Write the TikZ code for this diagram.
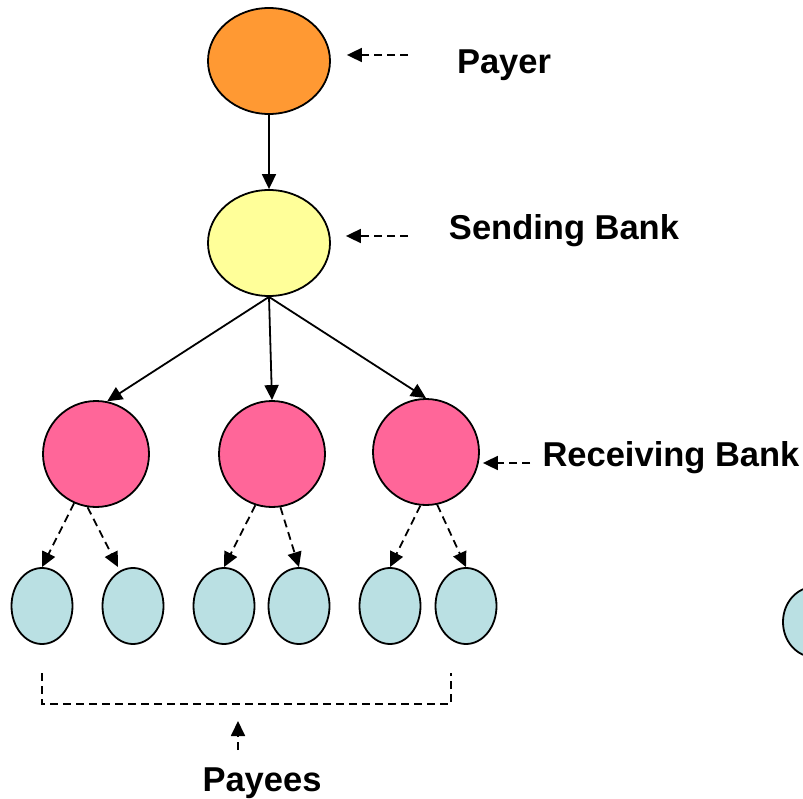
\documentclass[tikz,border=0pt]{standalone}
\usepackage{fontspec}
\setmainfont{Liberation Sans}
\usetikzlibrary{shapes.geometric}
\usetikzlibrary{arrows.meta}
\usetikzlibrary{positioning}
\definecolor{payerorange}{HTML}{FF9933}
\definecolor{sendyellow}{HTML}{FFFF99}
\definecolor{recvpink}{HTML}{FF6699}
\definecolor{payeeblue}{HTML}{BAE0E3}

\begin{document}
\begin{tikzpicture}[x=1pt,y=-1pt,
    bubble/.style={draw, line width=1.8pt, ellipse, inner sep=0pt},
    bank/.style={draw, line width=1.8pt, circle, inner sep=0pt, minimum size=106pt, fill=recvpink},
    payee/.style={bubble, fill=payeeblue, minimum width=61pt, minimum height=76pt},
    lbl/.style={font=\fontsize{34.5}{40}\selectfont\bfseries},
    link/.style={-{Triangle[length=15pt,width=14pt]}, line width=1.8pt},
    hint/.style={link, dash pattern=on 8pt off 5pt}]
    \useasboundingbox (0,0) rectangle (803,799);

    % payment chain
    \node[bubble, fill=payerorange, minimum width=122pt, minimum height=106pt] (payer) at (269,61) {};
    \node[bubble, fill=sendyellow, minimum width=122pt, minimum height=106pt] (send) at (269,243) {};

    \node[bank] (r1) at (96,454) {};
    \node[bank] (r2) at (272,454) {};
    \node[bank] (r3) at (426,452) {};

    \node[payee] (p1) at (42,606) {};
    \node[payee] (p2) at (133,606) {};
    \node[payee] (p3) at (224,606) {};
    \node[payee] (p4) at (299,606) {};
    \node[payee] (p5) at (390,606) {};
    \node[payee] (p6) at (466,606) {};
    \node[bubble, fill=payeeblue, minimum width=62pt, minimum height=70pt] (extra) at (814,622) {};

    \draw[link] (payer.south) -- (send.north);
    \draw[link] (send.south) -- (r1.78);
    \draw[link] (send.south) -- (r2.north);
    \draw[link] (send.south) -- (r3.north);

    \draw[hint] (r1.-114) -- (p1.north);
    \draw[hint] (r1.-99) -- ([xshift=-15pt]p2.north);
    \draw[hint] (r2.-108) -- (p3.north);
    \draw[hint] (r2.-81) -- (p4.north);
    \draw[hint] (r3.-96) -- (p5.north);
    \draw[hint] (r3.-78) -- (p6.north);

    % labels
    \node[lbl] (payerlbl) at (504,65) {Payer};
    \node[lbl] (sendlbl) at (564,231) {Sending Bank};
    \node[lbl] (recvlbl) at (671,458) {Receiving Bank};
    \node[lbl] (payeeslbl) at (262,783) {Payees};

    \coordinate (payertail) at (408,55);
    \coordinate (sendtail) at (408,236);
    \coordinate (recvtail) at (530,463);
    \draw[hint] (payertail) -- ([xshift=16pt,yshift=6pt]payer.east);
    \draw[hint] (sendtail) -- ([xshift=15pt,yshift=7pt]send.east);
    \draw[hint] (recvtail) -- ([xshift=3pt,yshift=-11pt]r3.east);

    % bracket under the payees
    \coordinate (bl) at (42,673);
    \coordinate (br) at (451,673);
    \coordinate (bmid) at (238,721);
    \coordinate (payeestail) at (238,750);
    \draw[line width=1.8pt, dash pattern=on 8pt off 5pt] (bl) -- ++(0,31) -| (br);
    \draw[hint] (payeestail) -- (bmid);
\end{tikzpicture}
\end{document}
